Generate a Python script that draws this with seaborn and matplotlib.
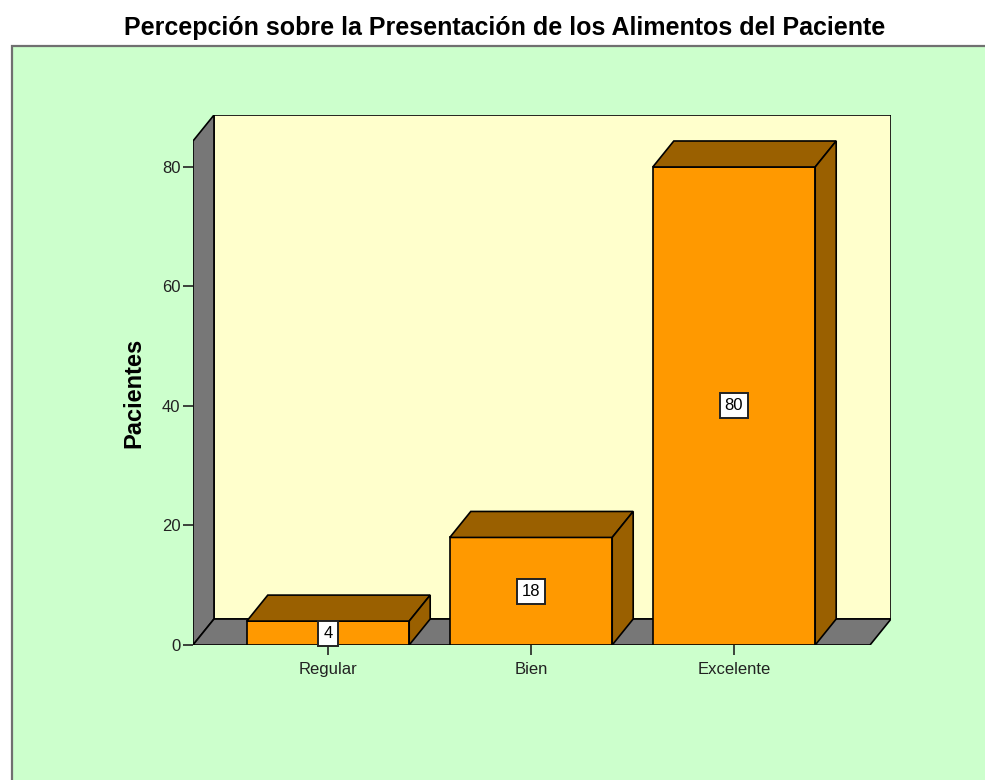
"""3D-style SPSS bar chart: patient perception of food presentation."""

import matplotlib

matplotlib.use("Agg")

import matplotlib.pyplot as plt
import seaborn as sns
from matplotlib.patches import Polygon, Rectangle

# Data
categories = ["Regular", "Bien", "Excelente"]
counts = [4, 18, 80]
y_ticks = [0, 20, 40, 60, 80]

# Colors
GREEN_BG = "#ccffcc"
WALL_BACK = "#ffffcc"
WALL_GRAY = "#777777"
BAR_FRONT = "#ff9900"
BAR_DARK = "#9a6000"

sns.set_theme(style="white")
plt.rcParams["font.family"] = ["Liberation Sans", "DejaVu Sans"]

fig = plt.figure(figsize=(9.85, 7.8), dpi=100)
fig.patch.set_facecolor("white")

# green chart frame
fig.patches.append(
    Rectangle((12 / 985, -0.05), 1.0, 0.05 + 1 - 46 / 780, transform=fig.transFigure,
              facecolor=GREEN_BG, edgecolor="#707070", lw=1.6, zorder=-5)
)

ax = fig.add_axes([193 / 985, 135 / 780, 698 / 985, 530 / 780])
ax.set_facecolor("none")
ax.set_zorder(2)

# depth offsets in data units
DX, DY = 0.1034, 4.35
x0, x1 = -0.665, 2.67
top = 84.35

# back wall, side wall, floor
ax.add_patch(Rectangle((x0 + DX, DY), x1 - x0, top, facecolor=WALL_BACK,
                       edgecolor="black", lw=1.2, zorder=1))
ax.add_patch(Polygon([(x0, 0), (x0 + DX, DY), (x0 + DX, top + DY), (x0, top)],
                     facecolor=WALL_GRAY, edgecolor="black", lw=1.2, zorder=1))
ax.add_patch(Polygon([(x0, 0), (x1, 0), (x1 + DX, DY), (x0 + DX, DY)],
                     facecolor=WALL_GRAY, edgecolor="black", lw=1.2, zorder=1))

sns.barplot(x=categories, y=counts, color=BAR_FRONT, width=0.8, edgecolor="black",
            linewidth=1.2, saturation=1, ax=ax, zorder=3)

for bar, val in zip(ax.patches[3:], counts):
    bx, bw, bh = bar.get_x(), bar.get_width(), bar.get_height()
    ax.add_patch(Polygon([(bx, bh), (bx + bw, bh), (bx + bw + DX, bh + DY), (bx + DX, bh + DY)],
                         facecolor=BAR_DARK, edgecolor="black", lw=1.2, zorder=3))
    ax.add_patch(Polygon([(bx + bw, 0), (bx + bw + DX, DY), (bx + bw + DX, bh + DY), (bx + bw, bh)],
                         facecolor=BAR_DARK, edgecolor="black", lw=1.2, zorder=3))
    ax.text(bx + bw / 2, bh / 2, str(val), ha="center", va="center", fontsize=12,
            color="black", zorder=5,
            bbox=dict(boxstyle="square,pad=0.3", facecolor="white", edgecolor="#222222", lw=1.4))

ax.set_xlim(x0, x1 + DX)
ax.set_ylim(0, top + DY)
ax.set_yticks(y_ticks)
for s in ax.spines.values():
    s.set_visible(False)
ax.tick_params(axis="both", direction="out", length=7, width=1.2, color="#222222",
               labelsize=12, labelcolor="#222222", left=True, bottom=True, pad=2)
ax.tick_params(axis="x", pad=5)
ax.set_xlabel("")
ax.set_ylabel("")

fig.text(134 / 985, 1 - 393 / 780, "Pacientes", rotation=90, ha="center", va="center",
         fontsize=17, fontweight="bold", color="black")
fig.text(505 / 985, 1 - 28 / 780, "Percepción sobre la Presentación de los Alimentos del Paciente",
         ha="center", va="center", fontsize=18, fontweight="bold", color="black")

fig.savefig("out.png", dpi=100)
plt.close(fig)
